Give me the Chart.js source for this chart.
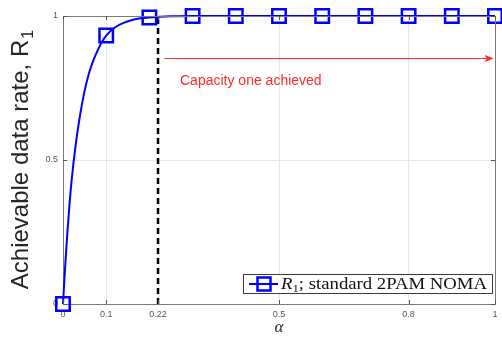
<!DOCTYPE html>
<html>
<head>
<meta charset="utf-8">
<script src="https://cdn.jsdelivr.net/npm/chart.js@4"></script>
<style>
  html, body { margin: 0; padding: 0; background: #fff; }
  #wrap { width: 502px; height: 343px; }
</style>
</head>
<body>
<div id="wrap"><canvas id="rateChart" width="502" height="343"></canvas></div>
<script>
// axis ticks
const alphaTicks = [0, 0.1, 0.22, 0.5, 0.8, 1];
const rateTicks = [0, 0.5, 1];

// R1 versus power allocation factor alpha (solid curve)
const curveAlpha = [0, 0.005, 0.01, 0.015, 0.02, 0.03, 0.04, 0.05, 0.06, 0.07, 0.08, 0.09,
  0.1, 0.12, 0.14, 0.16, 0.18, 0.2, 0.25, 0.3, 0.4, 0.5, 0.6, 0.7, 0.8, 0.9, 1];
const curveRate = [0, 0.13, 0.245, 0.345, 0.43, 0.56, 0.66, 0.74, 0.8, 0.845, 0.88, 0.91,
  0.932, 0.96, 0.976, 0.986, 0.992, 0.995, 0.999, 1, 1, 1, 1, 1, 1, 1, 1];

// square markers
const markerAlpha = [0, 0.1, 0.2, 0.3, 0.4, 0.5, 0.6, 0.7, 0.8, 0.9, 1];
const markerRate = [0, 0.932, 0.995, 1, 1, 1, 1, 1, 1, 1, 1];

// capacity threshold and arrow annotation
const capacityAlpha = 0.22;
const arrowAlpha = [0.235, 0.997];
const arrowRate = 0.855;

const toPoints = (xs, ys) => xs.map((x, i) => ({ x: x, y: ys[i] }));
const blue = "#0000ff";
const serif = "'Liberation Serif', 'Times New Roman', serif";
const sans = "'Liberation Sans', Arial, sans-serif";

const decorPlugin = {
  id: "decor",
  afterDraw(chart) {
    const ctx = chart.ctx;
    const area = chart.chartArea;
    const xs = chart.scales.x;
    const ys = chart.scales.y;
    ctx.save();

    // box on top and right
    ctx.strokeStyle = "#7a7a7a";
    ctx.lineWidth = 1;
    ctx.beginPath();
    ctx.moveTo(area.left, area.top + 0.5);
    ctx.lineTo(area.right + 0.5, area.top + 0.5);
    ctx.lineTo(area.right + 0.5, area.bottom);
    ctx.stroke();

    // inward tick marks
    ctx.strokeStyle = "#555";
    ctx.beginPath();
    alphaTicks.forEach(v => {
      const px = Math.round(xs.getPixelForValue(v)) + 0.5;
      ctx.moveTo(px, area.bottom); ctx.lineTo(px, area.bottom - 4);
      ctx.moveTo(px, area.top); ctx.lineTo(px, area.top + 4);
    });
    rateTicks.forEach(v => {
      const py = Math.round(ys.getPixelForValue(v)) + 0.5;
      ctx.moveTo(area.left, py); ctx.lineTo(area.left + 4, py);
      ctx.moveTo(area.right, py); ctx.lineTo(area.right - 4, py);
    });
    ctx.stroke();

    // arrow
    const ax0 = xs.getPixelForValue(arrowAlpha[0]);
    const ax1 = xs.getPixelForValue(arrowAlpha[1]);
    const ay = Math.round(ys.getPixelForValue(arrowRate)) + 0.5;
    ctx.strokeStyle = "#ff2a2a";
    ctx.fillStyle = "#ff2a2a";
    ctx.lineWidth = 1;
    ctx.beginPath();
    ctx.moveTo(ax0, ay);
    ctx.lineTo(ax1 - 6, ay);
    ctx.stroke();
    ctx.beginPath();
    ctx.moveTo(ax1, ay);
    ctx.lineTo(ax1 - 9, ay - 3.5);
    ctx.lineTo(ax1 - 7, ay);
    ctx.lineTo(ax1 - 9, ay + 3.5);
    ctx.closePath();
    ctx.fill();

    ctx.font = "14px " + sans;
    ctx.textAlign = "left";
    ctx.textBaseline = "alphabetic";
    ctx.fillText("Capacity one achieved", 180, 85);

    // legend
    const lx = 243, ly = 274, lw = 249, lh = 19;
    ctx.fillStyle = "#fff";
    ctx.fillRect(lx, ly, lw, lh);
    ctx.strokeStyle = "#3a3a3a";
    ctx.lineWidth = 1;
    ctx.strokeRect(lx + 0.5, ly + 0.5, lw, lh);
    const my = ly + lh / 2 + 0.5;
    ctx.strokeStyle = blue;
    ctx.lineWidth = 2;
    ctx.beginPath();
    ctx.moveTo(lx + 6, my);
    ctx.lineTo(lx + 35, my);
    ctx.stroke();
    ctx.lineWidth = 2.5;
    ctx.strokeRect(lx + 21 - 6.5, my - 6.5, 13, 13);

    ctx.fillStyle = "#111";
    ctx.save();
    ctx.translate(lx + 38, ly + 15);
    ctx.scale(1.17, 1);
    let tx = 0;
    ctx.font = "italic 16px " + serif;
    ctx.fillText("R", tx, 0);
    tx += ctx.measureText("R").width;
    ctx.font = "11px " + serif;
    ctx.fillText("1", tx, 3);
    tx += ctx.measureText("1").width;
    ctx.font = "16px " + serif;
    ctx.fillText("; standard 2PAM NOMA", tx, 0);
    ctx.restore();

    // x axis title
    ctx.fillStyle = "#262626";
    ctx.font = "italic 17px " + serif;
    ctx.textAlign = "center";
    ctx.fillText("\u03b1", (area.left + area.right) / 2, 332);

    // y axis title
    ctx.translate(28, (area.top + area.bottom) / 2);
    ctx.rotate(-Math.PI / 2);
    ctx.textAlign = "left";
    const main = "Achievable data rate, R";
    ctx.font = "24px " + sans;
    const w1 = ctx.measureText(main).width;
    ctx.font = "16px " + sans;
    const w2 = ctx.measureText("1").width;
    const start = -(w1 + w2) / 2;
    ctx.font = "24px " + sans;
    ctx.fillText(main, start, 0);
    ctx.font = "16px " + sans;
    ctx.fillText("1", start + w1 + 1, 5);

    ctx.restore();
  }
};

const gridColor = c => (c.tick && (c.tick.value === 0 || c.tick.value === 1)) ? "rgba(0,0,0,0)" : "#e6e6e6";

new Chart(document.getElementById("rateChart").getContext("2d"), {
  type: "scatter",
  data: {
    datasets: [
      {
        label: "curve",
        data: toPoints(curveAlpha, curveRate),
        showLine: true,
        borderColor: blue,
        borderWidth: 2,
        pointRadius: 0,
        cubicInterpolationMode: "monotone",
        clip: false,
        order: 2
      },
      {
        label: "capacity",
        data: [{ x: capacityAlpha, y: 0 }, { x: capacityAlpha, y: 1 }],
        showLine: true,
        borderColor: "#000",
        borderWidth: 2.5,
        borderDash: [6, 4],
        pointRadius: 0,
        order: 3
      },
      {
        label: "R1; standard 2PAM NOMA",
        data: toPoints(markerAlpha, markerRate),
        showLine: false,
        pointStyle: "rect",
        pointRadius: 9.5,
        pointBorderWidth: 2.5,
        pointBorderColor: blue,
        pointBackgroundColor: "rgba(0,0,0,0)",
        clip: false,
        order: 1
      }
    ]
  },
  options: {
    responsive: false,
    animation: false,
    layout: { autoPadding: false, padding: { top: 16, right: 7, left: 0, bottom: 0 } },
    plugins: {
      legend: { display: false },
      tooltip: { enabled: false }
    },
    scales: {
      x: {
        type: "linear",
        min: 0,
        max: 1,
        afterBuildTicks: axis => { axis.ticks = alphaTicks.map(v => ({ value: v })); },
        afterFit: scale => {
          scale.height = 39;
          scale.paddingLeft = 0;
          scale.paddingRight = 0;
        },
        grid: { color: gridColor, drawTicks: false },
        border: { color: "#7a7a7a" },
        ticks: {
          padding: 5,
          color: "#555",
          font: { family: sans, size: 9 },
          callback: v => String(v)
        }
      },
      y: {
        type: "linear",
        min: 0,
        max: 1,
        afterBuildTicks: axis => { axis.ticks = rateTicks.map(v => ({ value: v })); },
        afterFit: scale => {
          scale.width = 63;
          scale.paddingTop = 0;
          scale.paddingBottom = 0;
        },
        grid: { color: gridColor, drawTicks: false },
        border: { color: "#7a7a7a" },
        ticks: {
          padding: 5,
          color: "#555",
          font: { family: sans, size: 9 },
          callback: v => String(v)
        }
      }
    }
  },
  plugins: [decorPlugin]
});
</script>
</body>
</html>
